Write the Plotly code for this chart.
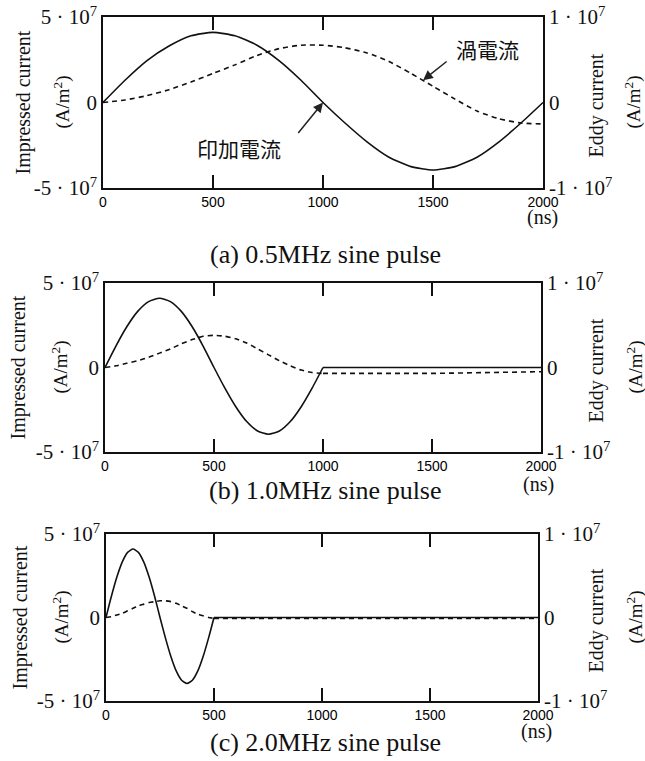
import plotly.graph_objects as go

# ---------------- data (values in units of 1e7 A/m^2) ----------------
E7 = 1e7

# (a) 0.5 MHz sine pulse
t_a = [0, 100, 200, 300, 400, 500, 600, 700, 800, 900, 1000,
       1100, 1200, 1300, 1400, 1500, 1600, 1700, 1800, 1900, 2000]
imp_a = [0, 1.3, 2.45, 3.3, 3.9, 4.1, 3.9, 3.35, 2.45, 1.3, 0,
         -1.2, -2.3, -3.2, -3.75, -3.95, -3.75, -3.2, -2.3, -1.2, 0]
eddy_a = [0, 0.03, 0.08, 0.15, 0.24, 0.34, 0.44, 0.55, 0.63, 0.67, 0.67,
          0.64, 0.58, 0.48, 0.34, 0.19, 0.04, -0.10, -0.19, -0.24, -0.25]

# (b) 1.0 MHz sine pulse (pulse part, then flat tail)
t_b = [0, 50, 100, 150, 200, 250, 300, 350, 400, 450, 500,
       550, 600, 650, 700, 750, 800, 850, 900, 950, 1000]
imp_b = [0, 1.27, 2.41, 3.32, 3.9, 4.1, 3.9, 3.32, 2.41, 1.27, 0,
         -1.22, -2.32, -3.2, -3.76, -3.95, -3.76, -3.2, -2.32, -1.22, 0]
eddy_b = [0, 0.02, 0.05, 0.08, 0.12, 0.17, 0.22, 0.28, 0.33, 0.37, 0.38,
          0.37, 0.34, 0.29, 0.22, 0.15, 0.08, 0.02, -0.03, -0.06, -0.07]
t_b_tail = [1000, 1500, 2000]
imp_b_tail = [0, 0, 0]
eddy_b_tail = [-0.07, -0.07, -0.05]

# (c) 2.0 MHz sine pulse (pulse part, then flat tail)
t_c = [0, 25, 50, 75, 100, 125, 150, 175, 200, 225, 250,
       275, 300, 325, 350, 375, 400, 425, 450, 475, 500]
imp_c = [0, 1.27, 2.41, 3.32, 3.9, 4.1, 3.9, 3.32, 2.41, 1.27, 0,
         -1.22, -2.32, -3.2, -3.76, -3.95, -3.76, -3.2, -2.32, -1.22, 0]
eddy_c = [0, 0.01, 0.03, 0.05, 0.08, 0.11, 0.14, 0.16, 0.18, 0.19, 0.20,
          0.20, 0.19, 0.17, 0.14, 0.11, 0.07, 0.04, 0.02, 0.0, -0.01]
t_c_tail = [500, 1000, 2000]
imp_c_tail = [0, 0, 0]
eddy_c_tail = [-0.01, -0.01, -0.01]

captions = ["(a) 0.5MHz sine pulse", "(b) 1.0MHz sine pulse", "(c) 2.0MHz sine pulse"]
x_ticks = [0, 500, 1000, 1500, 2000]
x_tick_text = ["0", "500", "1000", "1500", "2000"]
yl_vals = [-5e7, 0, 5e7]
yl_text = ["-5 · 10<sup>7</sup>", "0", "5 · 10<sup>7</sup>"]
yr_vals = [-1e7, 0, 1e7]
yr_text = ["-1 · 10<sup>7</sup>", "0", "1 · 10<sup>7</sup>"]

# ---------------- layout geometry (pixels) ----------------
W, H = 645, 761
boxes = [(103, 543, 17, 188), (105, 541, 283, 452), (106, 538, 534, 701)]
cap_y = [254, 491, 742]
ns_pos = [(542, 217), (538, 484), (536, 731)]
left_title_x = [(23, 62), (18, 60), (20, 61)]
right_title_x = [(596, 633), (596, 635), (596, 635)]

SERIF = "Liberation Serif, Times New Roman, serif"
SANS = "Liberation Sans Narrow, Liberation Sans, Arial, sans-serif"
CJK = "Noto Sans CJK JP, Noto Sans CJK SC, sans-serif"


def fx(px):
    return px / W


def fy(py):
    return 1 - py / H


fig = go.Figure()
series = [
    (t_a, imp_a, eddy_a, None, None, None),
    (t_b, imp_b, eddy_b, t_b_tail, imp_b_tail, eddy_b_tail),
    (t_c, imp_c, eddy_c, t_c_tail, imp_c_tail, eddy_c_tail),
]

layout = dict(
    width=W, height=H, margin=dict(l=0, r=0, t=0, b=0, autoexpand=False),
    paper_bgcolor="white", plot_bgcolor="white", showlegend=False,
)
annotations = []
solid = dict(color="#111", width=1.6)
dashed = dict(color="#111", width=1.6, dash="5px,4px")

for i, (tt, imp, ed, tt2, imp2, ed2) in enumerate(series):
    n = i + 1
    xa = "x" if n == 1 else f"x{n}"
    yl = "y" if n == 1 else f"y{2*n-1}"
    yr = f"y{2*n}"
    fig.add_trace(go.Scatter(x=tt, y=[v * E7 for v in imp], xaxis=xa, yaxis=yl, mode="lines",
                             line=dict(**solid, shape="spline", smoothing=0.6)))
    fig.add_trace(go.Scatter(x=tt, y=[v * E7 for v in ed], xaxis=xa, yaxis=yr, mode="lines",
                             line=dict(**dashed, shape="spline", smoothing=0.6)))
    if tt2 is not None:
        fig.add_trace(go.Scatter(x=tt2, y=[v * E7 for v in imp2], xaxis=xa, yaxis=yl, mode="lines",
                                 line=solid))
        fig.add_trace(go.Scatter(x=tt2, y=[v * E7 for v in ed2], xaxis=xa, yaxis=yr, mode="lines",
                                 line=dashed))
    x0, x1, y0, y1 = boxes[i]
    xkey = "xaxis" if n == 1 else f"xaxis{n}"
    ylkey = "yaxis" if n == 1 else f"yaxis{2*n-1}"
    yrkey = f"yaxis{2*n}"
    layout[xkey] = dict(
        domain=[fx(x0), fx(x1)], anchor=yl, range=[0, 2000], automargin=False,
        tickvals=x_ticks, ticktext=x_tick_text, ticks="inside", ticklen=13, tickwidth=1.5,
        tickcolor="#111", showline=True, linecolor="#111", linewidth=1.5, mirror="ticks",
        showgrid=False, zeroline=False, tickfont=dict(family=SANS, size=14, color="#000"),
    )
    layout[ylkey] = dict(
        domain=[fy(y1), fy(y0)], anchor=xa, range=[-5e7, 5e7], automargin=False,
        tickvals=yl_vals, ticktext=yl_text, ticks="", showline=True, linecolor="#111",
        linewidth=1.5, mirror=True, showgrid=False, zeroline=False,
        tickfont=dict(family=SERIF, size=21, color="#111"),
    )
    layout[yrkey] = dict(
        domain=[fy(y1), fy(y0)], anchor=xa, overlaying=yl, side="right", range=[-1e7, 1e7],
        automargin=False, tickvals=yr_vals, ticktext=yr_text, ticks="", showline=False,
        showgrid=False, zeroline=False, ticklabelstandoff=5,
        tickfont=dict(family=SERIF, size=21, color="#111"),
    )
    ymid = (y0 + y1) / 2
    annotations.append(dict(text=captions[i], x=fx(325), y=fy(cap_y[i]), xref="paper", yref="paper",
                            showarrow=False, font=dict(family=SERIF, size=26, color="#111"),
                            xanchor="center", yanchor="middle"))
    annotations.append(dict(text="(ns)", x=fx(ns_pos[i][0]), y=fy(ns_pos[i][1]), xref="paper", yref="paper",
                            showarrow=False, font=dict(family=SERIF, size=20, color="#111"),
                            xanchor="center", yanchor="middle"))
    annotations.append(dict(text="Impressed current", x=fx(left_title_x[i][0]), y=fy(ymid), xref="paper",
                            yref="paper", showarrow=False, textangle=-90,
                            font=dict(family=SERIF, size=20, color="#111"), xanchor="center", yanchor="middle"))
    annotations.append(dict(text="(A/m<sup>2</sup>)", x=fx(left_title_x[i][1]), y=fy(ymid), xref="paper",
                            yref="paper", showarrow=False, textangle=-90,
                            font=dict(family=SERIF, size=19, color="#111"), xanchor="center", yanchor="middle"))
    annotations.append(dict(text="Eddy current", x=fx(right_title_x[i][0]), y=fy(ymid + 3), xref="paper",
                            yref="paper", showarrow=False, textangle=-90,
                            font=dict(family=SERIF, size=20, color="#111"), xanchor="center", yanchor="middle"))
    annotations.append(dict(text="(A/m<sup>2</sup>)", x=fx(right_title_x[i][1]), y=fy(ymid), xref="paper",
                            yref="paper", showarrow=False, textangle=-90,
                            font=dict(family=SERIF, size=19, color="#111"), xanchor="center", yanchor="middle"))

# labels with arrows in panel (a)
annotations.append(dict(text="印加電流", x=fx(239), y=fy(148), xref="paper", yref="paper", showarrow=False,
                        font=dict(family=CJK, size=21, color="#111"), xanchor="center", yanchor="middle"))
annotations.append(dict(text="", x=1000, y=0, xref="x", yref="y", showarrow=True, arrowhead=2,
                        arrowsize=1.3, arrowwidth=1.5, arrowcolor="#222", ax=-26, ay=32))
annotations.append(dict(text="渦電流", x=fx(487), y=fy(49), xref="paper", yref="paper", showarrow=False,
                        font=dict(family=CJK, size=21, color="#111"), xanchor="center", yanchor="middle"))
annotations.append(dict(text="", x=1455, y=0.26e7, xref="x", yref="y2", showarrow=True, arrowhead=2,
                        arrowsize=1.3, arrowwidth=1.5, arrowcolor="#222", ax=25, ay=-20))

layout["annotations"] = annotations
fig.update_layout(**layout)
fig.write_html("out.html", post_script="document.body.style.margin='0';",
               config={"displayModeBar": False})
